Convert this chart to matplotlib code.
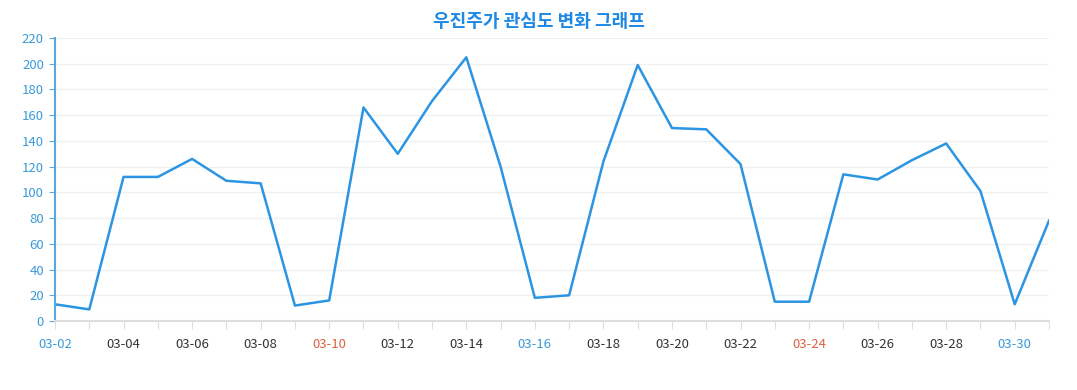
import matplotlib
matplotlib.use("Agg")
import matplotlib.pyplot as plt

plt.rcParams['font.family'] = ['Noto Sans CJK KR', 'DejaVu Sans']

# data
dates = ["03-%02d" % d for d in range(2, 32)]
values = [13, 9, 112, 112, 126, 109, 107, 12, 16, 166,
          130, 171, 205, 120, 18, 20, 124, 199, 150, 149,
          122, 15, 15, 114, 110, 125, 138, 101, 13, 78]
blue_days = ["03-02", "03-16", "03-30"]
red_days = ["03-10", "03-24"]
title = "우진주가 관심도 변화 그래프"

def main():
    fig = plt.figure(figsize=(10.77, 3.9), dpi=100)
    ax = fig.add_axes([55/1077, 69/390, (1049-55)/1077, (321-38)/390])

    x = list(range(len(dates)))
    ax.plot(x, values, color="#2b95e3", linewidth=1.8)

    ax.set_xlim(0, len(dates)-1)
    ax.set_ylim(0, 220)
    ax.set_yticks(range(0, 221, 20))
    ax.set_xticks(x)
    ax.set_xticklabels([d if i % 2 == 0 else "" for i, d in enumerate(dates)])

    for lab, d in zip(ax.get_xticklabels(), dates):
        if d in blue_days:
            lab.set_color("#3a9ad9")
        elif d in red_days:
            lab.set_color("#e0603f")
        else:
            lab.set_color("#333333")

    ax.tick_params(axis="x", length=6, color="#dddddd", labelsize=9.5, pad=6)
    ax.tick_params(axis="y", length=4, color="#5aa7de", labelcolor="#3a9ad9", labelsize=9.5, pad=4)

    ax.grid(axis="y", color="#f0f0f0", linewidth=1)
    ax.set_axisbelow(True)
    for s in ["top", "right"]:
        ax.spines[s].set_visible(False)
    ax.spines["left"].set_color("#5aa7de")
    ax.spines["left"].set_linewidth(1.5)
    ax.spines["bottom"].set_color("#dddddd")
    ax.spines["bottom"].set_linewidth(1.5)

    fig.text(0.5, 0.945, title, ha="center", va="center", fontsize=13,
             fontweight="bold", color="#1e88e5")

    fig.savefig("out.png", dpi=100)

if __name__ == '__main__':
    main()
